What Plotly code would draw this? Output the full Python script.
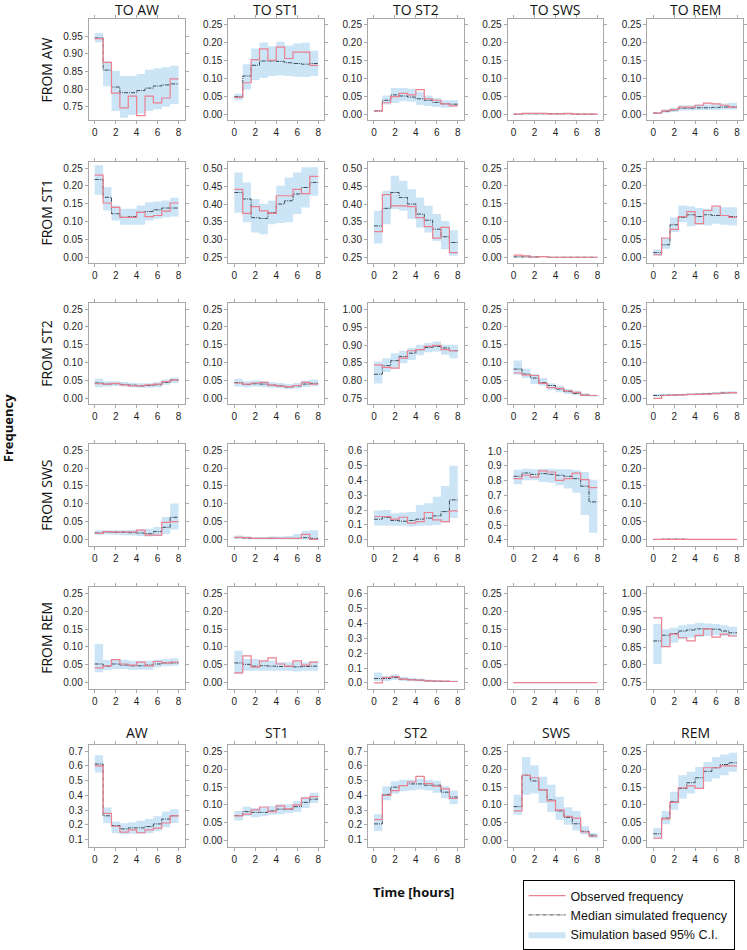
import plotly.graph_objects as go

# ---------------- data ----------------
time_edges = [0.0, 0.8, 1.6, 2.4, 3.2, 4.0, 4.8, 5.6, 6.4, 7.2, 8.0]
states = ["AW", "ST1", "ST2", "SWS", "REM"]
x_ticks = [0, 2, 4, 6, 8]

# FROM AW
obs_AW_AW = [0.943, 0.876, 0.789, 0.747, 0.780, 0.725, 0.780, 0.761, 0.775, 0.829]
med_AW_AW = [0.945, 0.854, 0.806, 0.790, 0.790, 0.796, 0.803, 0.809, 0.812, 0.815]
lo_AW_AW = [0.933, 0.808, 0.738, 0.719, 0.727, 0.731, 0.738, 0.743, 0.750, 0.758]
hi_AW_AW = [0.959, 0.878, 0.852, 0.837, 0.837, 0.843, 0.855, 0.859, 0.862, 0.866]

obs_AW_ST1 = [0.047, 0.088, 0.153, 0.183, 0.151, 0.188, 0.156, 0.174, 0.174, 0.137]
med_AW_ST1 = [0.049, 0.107, 0.137, 0.149, 0.149, 0.148, 0.144, 0.142, 0.140, 0.142]
lo_AW_ST1 = [0.039, 0.069, 0.096, 0.101, 0.107, 0.109, 0.107, 0.105, 0.104, 0.107]
hi_AW_ST1 = [0.057, 0.140, 0.184, 0.201, 0.190, 0.203, 0.192, 0.198, 0.200, 0.178]

obs_AW_ST2 = [0.009, 0.032, 0.049, 0.058, 0.054, 0.069, 0.043, 0.039, 0.029, 0.023]
med_AW_ST2 = [0.009, 0.039, 0.054, 0.051, 0.048, 0.043, 0.039, 0.033, 0.029, 0.028]
lo_AW_ST2 = [0.007, 0.027, 0.031, 0.036, 0.035, 0.026, 0.023, 0.020, 0.018, 0.021]
hi_AW_ST2 = [0.012, 0.052, 0.073, 0.073, 0.071, 0.063, 0.052, 0.045, 0.039, 0.039]

obs_AW_SWS = [0.000, 0.002, 0.002, 0.002, 0.001, 0.001, 0.002, 0.000, 0.000, 0.000]
med_AW_SWS = [0.000, 0.001, 0.001, 0.001, 0.001, 0.001, 0.001, 0.000, 0.000, 0.000]
lo_AW_SWS = [0.000, 0.000, 0.000, 0.000, 0.000, 0.000, 0.000, 0.000, 0.000, 0.000]
hi_AW_SWS = [0.001, 0.004, 0.004, 0.004, 0.003, 0.003, 0.003, 0.002, 0.001, 0.001]

obs_AW_REM = [0.003, 0.009, 0.013, 0.020, 0.020, 0.025, 0.031, 0.029, 0.025, 0.020]
med_AW_REM = [0.003, 0.008, 0.012, 0.017, 0.017, 0.018, 0.018, 0.019, 0.020, 0.020]
lo_AW_REM = [0.002, 0.004, 0.006, 0.010, 0.010, 0.012, 0.012, 0.012, 0.013, 0.013]
hi_AW_REM = [0.005, 0.014, 0.018, 0.025, 0.025, 0.027, 0.027, 0.028, 0.030, 0.032]

# FROM ST1
obs_ST1_AW = [0.230, 0.152, 0.140, 0.112, 0.112, 0.126, 0.114, 0.117, 0.129, 0.152]
med_ST1_AW = [0.218, 0.168, 0.122, 0.112, 0.114, 0.126, 0.128, 0.133, 0.138, 0.138]
lo_ST1_AW = [0.175, 0.131, 0.103, 0.091, 0.091, 0.091, 0.103, 0.108, 0.112, 0.114]
hi_ST1_AW = [0.258, 0.196, 0.145, 0.136, 0.136, 0.145, 0.154, 0.156, 0.159, 0.167]

obs_ST1_ST1 = [0.441, 0.374, 0.393, 0.381, 0.374, 0.423, 0.423, 0.441, 0.429, 0.477]
med_ST1_ST1 = [0.432, 0.414, 0.362, 0.360, 0.376, 0.400, 0.409, 0.428, 0.446, 0.460]
lo_ST1_ST1 = [0.376, 0.349, 0.321, 0.316, 0.344, 0.347, 0.349, 0.372, 0.390, 0.423]
hi_ST1_ST1 = [0.488, 0.460, 0.414, 0.400, 0.409, 0.451, 0.474, 0.488, 0.502, 0.502]

obs_ST1_ST2 = [0.323, 0.426, 0.395, 0.395, 0.393, 0.362, 0.337, 0.305, 0.335, 0.265]
med_ST1_ST2 = [0.339, 0.388, 0.432, 0.418, 0.400, 0.372, 0.355, 0.330, 0.309, 0.293]
lo_ST1_ST2 = [0.290, 0.344, 0.386, 0.381, 0.358, 0.335, 0.321, 0.297, 0.274, 0.256]
hi_ST1_ST2 = [0.381, 0.437, 0.479, 0.465, 0.441, 0.418, 0.395, 0.372, 0.353, 0.327]

obs_ST1_SWS = [0.006, 0.004, 0.000, 0.002, 0.000, 0.000, 0.000, 0.000, 0.000, 0.000]
med_ST1_SWS = [0.001, 0.001, 0.001, 0.002, 0.000, 0.000, 0.000, 0.000, 0.000, 0.000]
lo_ST1_SWS = [0.000, 0.000, 0.000, 0.000, 0.000, 0.000, 0.000, 0.000, 0.000, 0.000]
hi_ST1_SWS = [0.003, 0.003, 0.002, 0.003, 0.001, 0.001, 0.001, 0.001, 0.001, 0.001]

obs_ST1_REM = [0.007, 0.054, 0.078, 0.114, 0.128, 0.094, 0.131, 0.143, 0.117, 0.112]
med_ST1_REM = [0.013, 0.035, 0.091, 0.112, 0.119, 0.114, 0.119, 0.117, 0.117, 0.114]
lo_ST1_REM = [0.004, 0.024, 0.071, 0.099, 0.087, 0.091, 0.089, 0.094, 0.091, 0.089]
hi_ST1_REM = [0.022, 0.054, 0.112, 0.145, 0.143, 0.138, 0.136, 0.140, 0.140, 0.140]

# FROM ST2
obs_ST2_AW = [0.041, 0.040, 0.042, 0.038, 0.035, 0.035, 0.038, 0.040, 0.047, 0.052]
med_ST2_AW = [0.043, 0.040, 0.041, 0.039, 0.037, 0.035, 0.036, 0.038, 0.045, 0.051]
lo_ST2_AW = [0.031, 0.033, 0.035, 0.033, 0.031, 0.030, 0.030, 0.031, 0.038, 0.043]
hi_ST2_AW = [0.055, 0.048, 0.048, 0.046, 0.044, 0.042, 0.042, 0.046, 0.053, 0.058]

obs_ST2_ST1 = [0.043, 0.040, 0.043, 0.045, 0.037, 0.034, 0.033, 0.036, 0.045, 0.040]
med_ST2_ST1 = [0.044, 0.039, 0.041, 0.040, 0.037, 0.035, 0.032, 0.035, 0.040, 0.042]
lo_ST2_ST1 = [0.033, 0.031, 0.033, 0.032, 0.030, 0.028, 0.026, 0.028, 0.032, 0.034]
hi_ST2_ST1 = [0.055, 0.048, 0.050, 0.048, 0.045, 0.043, 0.040, 0.043, 0.050, 0.053]

obs_ST2_ST2 = [0.844, 0.837, 0.835, 0.863, 0.884, 0.887, 0.896, 0.899, 0.887, 0.884]
med_ST2_ST2 = [0.818, 0.842, 0.856, 0.868, 0.877, 0.887, 0.893, 0.896, 0.892, 0.884]
lo_ST2_ST2 = [0.792, 0.824, 0.835, 0.849, 0.858, 0.871, 0.880, 0.882, 0.873, 0.863]
hi_ST2_ST2 = [0.854, 0.863, 0.877, 0.884, 0.892, 0.901, 0.906, 0.910, 0.901, 0.901]

obs_ST2_SWS = [0.071, 0.066, 0.064, 0.042, 0.030, 0.028, 0.021, 0.017, 0.009, 0.008]
med_ST2_SWS = [0.082, 0.068, 0.057, 0.044, 0.036, 0.026, 0.019, 0.014, 0.009, 0.008]
lo_ST2_SWS = [0.066, 0.057, 0.040, 0.036, 0.024, 0.017, 0.012, 0.009, 0.006, 0.005]
hi_ST2_SWS = [0.106, 0.083, 0.068, 0.057, 0.042, 0.036, 0.026, 0.021, 0.014, 0.011]

obs_ST2_REM = [0.000, 0.008, 0.009, 0.010, 0.011, 0.011, 0.012, 0.013, 0.015, 0.016]
med_ST2_REM = [0.008, 0.009, 0.009, 0.010, 0.011, 0.012, 0.013, 0.014, 0.015, 0.016]
lo_ST2_REM = [0.005, 0.006, 0.007, 0.008, 0.008, 0.009, 0.010, 0.011, 0.012, 0.013]
hi_ST2_REM = [0.012, 0.012, 0.012, 0.013, 0.014, 0.015, 0.016, 0.018, 0.019, 0.020]

# FROM SWS
obs_SWS_AW = [0.017, 0.022, 0.021, 0.021, 0.021, 0.026, 0.012, 0.012, 0.048, 0.050]
med_SWS_AW = [0.018, 0.021, 0.020, 0.020, 0.019, 0.018, 0.016, 0.022, 0.034, 0.062]
lo_SWS_AW = [0.013, 0.014, 0.013, 0.012, 0.011, 0.010, 0.008, 0.010, 0.015, 0.028]
hi_SWS_AW = [0.026, 0.026, 0.026, 0.026, 0.027, 0.028, 0.030, 0.035, 0.063, 0.101]

obs_SWS_ST1 = [0.006, 0.005, 0.003, 0.003, 0.004, 0.003, 0.003, 0.003, 0.014, 0.000]
med_SWS_ST1 = [0.005, 0.004, 0.003, 0.003, 0.003, 0.003, 0.003, 0.003, 0.005, 0.003]
lo_SWS_ST1 = [0.002, 0.001, 0.000, 0.000, 0.000, 0.000, 0.000, 0.000, 0.000, 0.000]
hi_SWS_ST1 = [0.011, 0.009, 0.007, 0.007, 0.008, 0.008, 0.010, 0.015, 0.024, 0.026]

obs_SWS_ST2 = [0.157, 0.157, 0.139, 0.152, 0.112, 0.123, 0.184, 0.134, 0.123, 0.195]
med_SWS_ST2 = [0.139, 0.152, 0.130, 0.125, 0.130, 0.139, 0.146, 0.161, 0.190, 0.269]
lo_SWS_ST2 = [0.096, 0.096, 0.094, 0.094, 0.090, 0.094, 0.096, 0.100, 0.116, 0.146]
hi_SWS_ST2 = [0.197, 0.200, 0.179, 0.184, 0.188, 0.235, 0.246, 0.291, 0.363, 0.499]

obs_SWS_SWS = [0.814, 0.837, 0.825, 0.866, 0.859, 0.803, 0.814, 0.852, 0.807, 0.754]
med_SWS_SWS = [0.830, 0.852, 0.843, 0.848, 0.843, 0.837, 0.830, 0.814, 0.763, 0.657]
lo_SWS_SWS = [0.776, 0.803, 0.803, 0.792, 0.787, 0.769, 0.747, 0.718, 0.568, 0.449]
hi_SWS_SWS = [0.875, 0.881, 0.877, 0.881, 0.881, 0.877, 0.877, 0.870, 0.859, 0.807]

obs_SWS_REM = [0.000, 0.000, 0.000, 0.000, 0.000, 0.000, 0.000, 0.000, 0.000, 0.000]
med_SWS_REM = [0.000, 0.001, 0.001, 0.001, 0.000, 0.000, 0.000, 0.000, 0.000, 0.000]
lo_SWS_REM = [0.000, 0.000, 0.000, 0.000, 0.000, 0.000, 0.000, 0.000, 0.000, 0.000]
hi_SWS_REM = [0.000, 0.001, 0.001, 0.001, 0.000, 0.000, 0.000, 0.000, 0.000, 0.000]

# FROM REM
obs_REM_AW = [0.041, 0.047, 0.064, 0.052, 0.049, 0.057, 0.047, 0.059, 0.055, 0.057]
med_REM_AW = [0.052, 0.046, 0.052, 0.049, 0.047, 0.047, 0.049, 0.052, 0.055, 0.055]
lo_REM_AW = [0.029, 0.035, 0.038, 0.038, 0.036, 0.036, 0.036, 0.043, 0.046, 0.047]
hi_REM_AW = [0.108, 0.063, 0.066, 0.064, 0.061, 0.061, 0.061, 0.064, 0.066, 0.068]

obs_REM_ST1 = [0.027, 0.075, 0.043, 0.061, 0.069, 0.052, 0.046, 0.061, 0.049, 0.057]
med_REM_ST1 = [0.055, 0.051, 0.046, 0.047, 0.046, 0.045, 0.045, 0.044, 0.045, 0.046]
lo_REM_ST1 = [0.024, 0.033, 0.033, 0.033, 0.033, 0.033, 0.033, 0.031, 0.033, 0.033]
hi_REM_ST1 = [0.089, 0.066, 0.066, 0.061, 0.061, 0.057, 0.057, 0.059, 0.057, 0.059]

obs_REM_ST2 = [0.000, 0.036, 0.042, 0.025, 0.020, 0.018, 0.013, 0.011, 0.011, 0.009]
med_REM_ST2 = [0.029, 0.029, 0.036, 0.025, 0.022, 0.018, 0.013, 0.011, 0.009, 0.009]
lo_REM_ST2 = [0.013, 0.013, 0.020, 0.013, 0.011, 0.009, 0.007, 0.006, 0.005, 0.005]
hi_REM_ST2 = [0.069, 0.047, 0.058, 0.040, 0.033, 0.029, 0.022, 0.018, 0.016, 0.015]

obs_REM_SWS = [0.000, 0.000, 0.000, 0.000, 0.000, 0.000, 0.000, 0.000, 0.000, 0.000]
med_REM_SWS = [0.000, 0.000, 0.000, 0.000, 0.000, 0.000, 0.000, 0.000, 0.000, 0.000]
lo_REM_SWS = [0.000, 0.000, 0.000, 0.000, 0.000, 0.000, 0.000, 0.000, 0.000, 0.000]
hi_REM_SWS = [0.000, 0.000, 0.000, 0.000, 0.000, 0.000, 0.000, 0.000, 0.000, 0.000]

obs_REM_REM = [0.932, 0.851, 0.886, 0.876, 0.867, 0.883, 0.901, 0.878, 0.886, 0.881]
med_REM_REM = [0.867, 0.883, 0.888, 0.895, 0.898, 0.901, 0.901, 0.900, 0.895, 0.890]
lo_REM_REM = [0.802, 0.853, 0.862, 0.872, 0.876, 0.878, 0.881, 0.883, 0.881, 0.879]
hi_REM_REM = [0.915, 0.900, 0.904, 0.911, 0.914, 0.918, 0.916, 0.915, 0.911, 0.907]

# State occupancy
obs_occ_AW = [0.600, 0.278, 0.191, 0.151, 0.167, 0.147, 0.167, 0.178, 0.213, 0.262]
med_occ_AW = [0.613, 0.262, 0.196, 0.173, 0.180, 0.180, 0.189, 0.207, 0.240, 0.262]
lo_occ_AW = [0.556, 0.211, 0.144, 0.136, 0.140, 0.140, 0.144, 0.158, 0.184, 0.213]
hi_occ_AW = [0.673, 0.318, 0.224, 0.211, 0.218, 0.229, 0.240, 0.258, 0.291, 0.307]

obs_occ_ST1 = [0.069, 0.074, 0.086, 0.094, 0.081, 0.097, 0.089, 0.100, 0.119, 0.123]
med_occ_ST1 = [0.070, 0.081, 0.079, 0.079, 0.083, 0.088, 0.088, 0.095, 0.107, 0.116]
lo_occ_ST1 = [0.056, 0.069, 0.065, 0.068, 0.072, 0.074, 0.077, 0.080, 0.091, 0.105]
hi_occ_ST1 = [0.083, 0.095, 0.091, 0.093, 0.097, 0.102, 0.102, 0.111, 0.123, 0.134]

obs_occ_ST2 = [0.236, 0.400, 0.433, 0.467, 0.491, 0.529, 0.480, 0.462, 0.444, 0.380]
med_occ_ST2 = [0.207, 0.407, 0.456, 0.467, 0.478, 0.478, 0.469, 0.469, 0.422, 0.389]
lo_occ_ST2 = [0.158, 0.367, 0.411, 0.429, 0.433, 0.440, 0.433, 0.418, 0.380, 0.340]
hi_occ_ST2 = [0.273, 0.462, 0.496, 0.507, 0.507, 0.513, 0.507, 0.500, 0.462, 0.433]

obs_occ_SWS = [0.083, 0.183, 0.176, 0.142, 0.111, 0.086, 0.068, 0.063, 0.024, 0.012]
med_occ_SWS = [0.095, 0.183, 0.167, 0.142, 0.114, 0.083, 0.065, 0.047, 0.026, 0.015]
lo_occ_SWS = [0.072, 0.128, 0.132, 0.105, 0.080, 0.058, 0.044, 0.028, 0.017, 0.007]
hi_occ_SWS = [0.128, 0.234, 0.211, 0.179, 0.156, 0.123, 0.093, 0.083, 0.040, 0.021]

obs_occ_REM = [0.007, 0.061, 0.107, 0.148, 0.153, 0.146, 0.204, 0.204, 0.209, 0.209]
med_occ_REM = [0.019, 0.063, 0.109, 0.146, 0.162, 0.176, 0.194, 0.204, 0.213, 0.218]
lo_occ_REM = [0.009, 0.046, 0.086, 0.117, 0.132, 0.146, 0.165, 0.174, 0.183, 0.193]
hi_occ_REM = [0.035, 0.083, 0.137, 0.183, 0.193, 0.206, 0.220, 0.234, 0.241, 0.246]

# tick sets
ticks_025 = [0.00, 0.05, 0.10, 0.15, 0.20, 0.25]
ticks_050 = [0.25, 0.30, 0.35, 0.40, 0.45, 0.50]
ticks_100 = [0.75, 0.80, 0.85, 0.90, 0.95, 1.00]
ticks_aw = [0.75, 0.80, 0.85, 0.90, 0.95]
ticks_06 = [0.0, 0.1, 0.2, 0.3, 0.4, 0.5, 0.6]
ticks_sws = [0.4, 0.5, 0.6, 0.7, 0.8, 0.9, 1.0]
ticks_07 = [0.1, 0.2, 0.3, 0.4, 0.5, 0.6, 0.7]

# ---------------- layout constants ----------------
W, H = 747, 950
col_left = [89, 229, 369, 509, 649]
col_w = 96
row_top = [19, 163, 305, 447, 591, 750]
row_h = 102

R025 = ([-0.017, 0.267], ticks_025, ".2f")
R050 = ([0.235, 0.517], ticks_050, ".2f")
R100 = ([0.733, 1.018], ticks_100, ".2f")
RAW = ([0.712, 0.999], ticks_aw, ".2f")
R06 = ([-0.039, 0.645], ticks_06, ".1f")
RSWS = ([0.362, 1.047], ticks_sws, ".1f")
R07 = ([0.053, 0.740], ticks_07, ".1f")

g = globals()
panels = []
for r, fr in enumerate(states):
    for c, to in enumerate(states):
        key = fr + "_" + to
        panels.append((r, c, g["obs_" + key], g["med_" + key], g["lo_" + key], g["hi_" + key]))
for c, st in enumerate(states):
    key = "occ_" + st
    panels.append((5, c, g["obs_" + key], g["med_" + key], g["lo_" + key], g["hi_" + key]))

ranges = [
    [RAW, R025, R025, R025, R025],
    [R025, R050, R050, R025, R025],
    [R025, R025, R100, R025, R025],
    [R025, R025, R06, RSWS, R025],
    [R025, R025, R06, R025, R100],
    [R07, R025, R07, R025, R025],
]

band_color = "rgb(204,229,246)"
obs_color = "rgb(234,128,144)"
med_color = "rgb(62,74,86)"
axis_color = "#a8a8a8"
tick_font = dict(family="Arial, Liberation Sans, sans-serif", size=10, color="#1e1e1e")

fig = go.Figure()
layout = {}


def step(vals):
    return list(vals) + [vals[-1]]


for k, (r, c, obs, med, lo, hi) in enumerate(panels):
    idx = k + 1
    xa = "x" if idx == 1 else "x%d" % idx
    ya = "y" if idx == 1 else "y%d" % idx
    first = idx == 1
    fig.add_trace(go.Scatter(x=time_edges, y=step(lo), xaxis=xa, yaxis=ya, mode="lines",
                             line=dict(width=0, shape="hv", color=band_color),
                             showlegend=False, hoverinfo="skip"))
    fig.add_trace(go.Scatter(x=time_edges, y=step(hi), xaxis=xa, yaxis=ya, mode="lines",
                             line=dict(width=0, shape="hv", color=band_color),
                             fill="tonexty", fillcolor=band_color,
                             name="Simulation based 95% C.I.", legendrank=3,
                             showlegend=first))
    fig.add_trace(go.Scatter(x=time_edges, y=step(med), xaxis=xa, yaxis=ya, mode="lines",
                             line=dict(width=1, shape="hv", color=med_color,
                                       dash="4px,1px,1px,1px"),
                             name="Median simulated frequency", legendrank=2,
                             showlegend=first))
    fig.add_trace(go.Scatter(x=time_edges, y=step(obs), xaxis=xa, yaxis=ya, mode="lines",
                             line=dict(width=1.2, shape="hv", color=obs_color),
                             name="Observed frequency", legendrank=1,
                             showlegend=first))

    yr, yt, fmt = ranges[r][c]
    x0 = col_left[c] / W
    x1 = (col_left[c] + col_w) / W
    y1 = 1 - row_top[r] / H
    y0 = 1 - (row_top[r] + row_h) / H
    common = dict(showline=True, linecolor=axis_color, linewidth=1, mirror="ticks",
                  ticks="outside", ticklen=3, tickcolor=axis_color, tickwidth=1,
                  showgrid=False, zeroline=False, tickfont=tick_font, fixedrange=True)
    layout["xaxis" if idx == 1 else "xaxis%d" % idx] = dict(
        domain=[x0, x1], range=[-0.57, 8.57], tickvals=x_ticks, anchor=ya, **common)
    layout["yaxis" if idx == 1 else "yaxis%d" % idx] = dict(
        domain=[y0, y1], range=yr, tickvals=yt, tickformat=fmt, anchor=xa, **common)

title_font = dict(family="Open Sans, sans-serif", size=14, color="#111")
ann = []
for c, st in enumerate(states):
    cx = (col_left[c] + col_w / 2) / W
    ann.append(dict(text="TO " + st, x=cx, y=1 - 9.5 / H, xref="paper", yref="paper",
                    showarrow=False, font=title_font, xanchor="center", yanchor="middle"))
    ann.append(dict(text=st, x=cx, y=1 - 737 / H, xref="paper", yref="paper",
                    showarrow=False, font=title_font, xanchor="center", yanchor="middle"))
for r, st in enumerate(states):
    cy = 1 - (row_top[r] + row_h / 2) / H
    ann.append(dict(text="FROM " + st, x=47 / W, y=cy, xref="paper", yref="paper",
                    showarrow=False, font=title_font, textangle=-90,
                    xanchor="center", yanchor="middle"))
bold_font = dict(family="Open Sans, sans-serif", size=13, color="#111")
ann.append(dict(text="<b>Frequency</b>", x=8 / W, y=1 - 431 / H, xref="paper", yref="paper",
                showarrow=False, font=bold_font, textangle=-90, xanchor="center", yanchor="middle"))
ann.append(dict(text="<b>Time [hours]</b>", x=415 / W, y=1 - 898 / H, xref="paper", yref="paper",
                showarrow=False, font=bold_font, xanchor="center", yanchor="middle"))

fig.update_layout(
    width=W, height=H,
    margin=dict(l=0, r=0, t=0, b=0),
    paper_bgcolor="white", plot_bgcolor="white",
    annotations=ann,
    legend=dict(x=524 / W, y=1 - 886 / H, xanchor="left", yanchor="top",
                bordercolor="black", borderwidth=1, bgcolor="white",
                font=dict(family="Arial, Liberation Sans, sans-serif", size=12.5, color="#111"),
                itemwidth=37, tracegroupgap=0, traceorder="normal"),
    **layout,
)

fig.write_html("out.html", config={"displayModeBar": False},
               post_script="document.body.style.margin='0px';document.body.style.overflow='hidden';")
